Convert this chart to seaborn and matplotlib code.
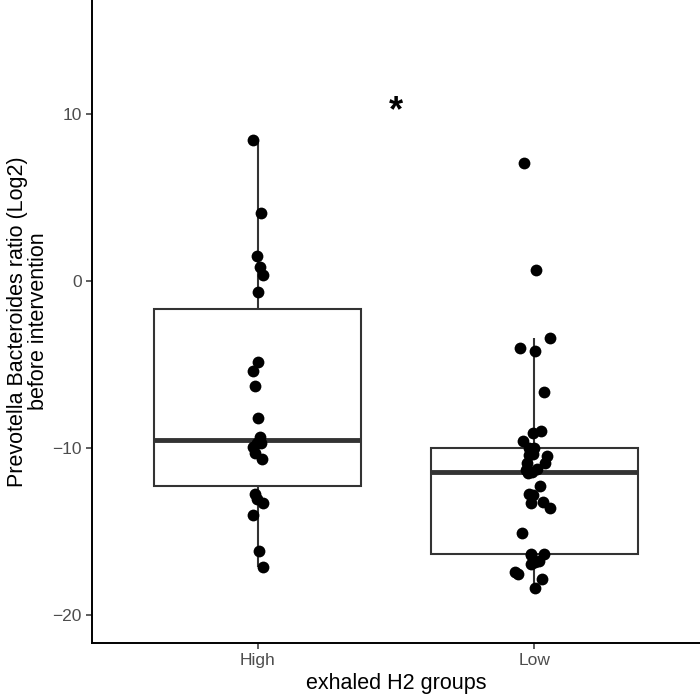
import numpy as np
import pandas as pd
import seaborn as sns
import matplotlib.pyplot as plt

# log2 Prevotella/Bacteroides ratio before intervention
high_vals = [8.44, 4.03, 1.46, 0.80, 0.34, -0.68, -4.87, -5.43, -6.29, -8.24,
             -9.35, -9.7, -9.75, -9.95, -10.35, -10.7, -12.8, -13.1, -13.3,
             -14.05, -16.19, -17.17]
low_vals = [7.05, 0.64, -3.43, -4.05, -4.2, -6.65,
            -8.98, -9.12, -9.62, -10.0, -10.05, -10.38, -10.44, -10.48,
            -10.92, -10.92, -11.28, -11.32, -11.48, -11.52,
            -12.32, -12.78, -12.81, -13.23, -13.32, -13.63, -15.13,
            -16.36, -16.38, -16.45, -16.77, -16.87, -16.97, -17.47, -17.57,
            -17.87, -18.4]
groups = ['High', 'Low']
signif_label = '*'

df = pd.DataFrame({
    'group': ['High'] * len(high_vals) + ['Low'] * len(low_vals),
    'ratio': high_vals + low_vals,
})

sns.set_style('ticks')
plt.rcParams['font.family'] = ['Liberation Sans', 'DejaVu Sans']

fig = plt.figure(figsize=(7, 6.99), dpi=100)
ax = fig.add_axes([92 / 700, 56 / 699, 608 / 700, 643 / 699])

sns.boxplot(data=df, x='group', y='ratio', order=groups, ax=ax,
            color='white', linecolor='#333333', linewidth=1.5, width=0.75,
            showfliers=False, showcaps=False,
            medianprops={'linewidth': 3.5, 'color': '#333333'})

# High points sit close to the centre line, Low ones are spread a bit more
np.random.seed(7)
sns.stripplot(data=df[df.group == 'High'], x='group', y='ratio', order=groups,
              ax=ax, color='black', size=8.5, jitter=0.02, zorder=3)
sns.stripplot(data=df[df.group == 'Low'], x='group', y='ratio', order=groups,
              ax=ax, color='black', size=8.5, jitter=0.07, zorder=3)

ax.text(0.5, 10.1, signif_label, ha='center', va='center', fontsize=26,
        fontweight='bold', color='black')

ax.set_xlim(-0.6, 1.6)
ax.set_ylim(-21.7, 16.8)
ax.set_yticks([-20, -10, 0, 10])
ax.set_xlabel('exhaled H2 groups', fontsize=15.5, labelpad=3, color='black')
ax.set_ylabel('Prevotella Bacteroides ratio (Log2)\nbefore intervention',
              fontsize=15.5, labelpad=2, linespacing=1.05, color='black')
ax.tick_params(axis='both', labelsize=12.5, labelcolor='#4D4D4D',
               color='#333333', length=4, width=1.1)
for side in ['top', 'right']:
    ax.spines[side].set_visible(False)
for side in ['left', 'bottom']:
    ax.spines[side].set_linewidth(1.4)
    ax.spines[side].set_color('black')

fig.savefig('out.png', dpi=100)
